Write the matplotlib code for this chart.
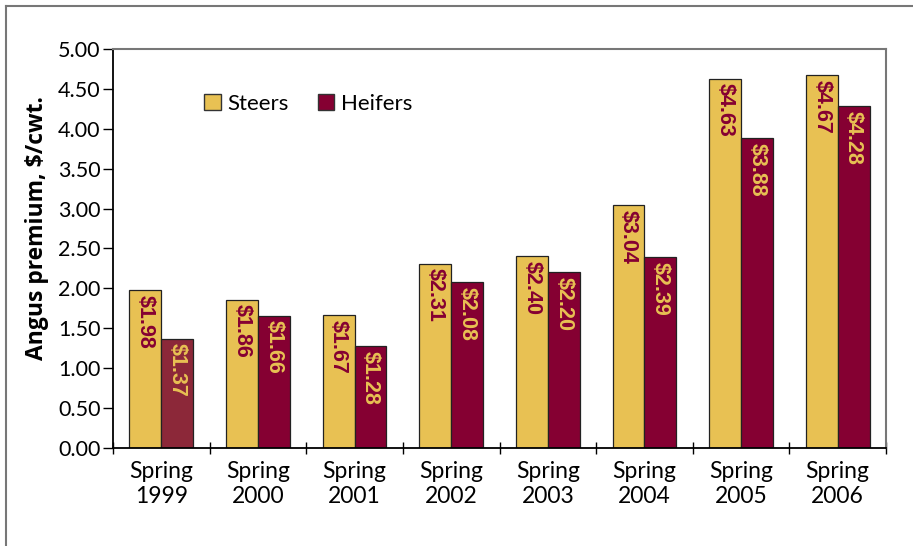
import numpy as np
import matplotlib.pyplot as plt
from matplotlib.lines import Line2D
from matplotlib.patches import Patch

# data
years = ['1999', '2000', '2001', '2002', '2003', '2004', '2005', '2006']
steers = [1.98, 1.86, 1.67, 2.31, 2.40, 3.04, 4.63, 4.67]
heifers = [1.37, 1.66, 1.28, 2.08, 2.20, 2.39, 3.88, 4.28]
yticks = [0.0, 0.5, 1.0, 1.5, 2.0, 2.5, 3.0, 3.5, 4.0, 4.5, 5.0]

gold = '#E8C153'
maroon = '#850032'
maroon_light = '#8C2839'
tick_font = 'Lato'
label_font = 'Liberation Sans'

fig = plt.figure(figsize=(9.13, 5.46), dpi=100)
ax = fig.add_axes([113/913, 1 - 448/546, (886-113)/913, (448-49)/546])

# outer frame (left and top edges)
fig.add_artist(Line2D([6/913, 6/913], [0, 1 - 6/546], transform=fig.transFigure, color='#777777', lw=1.5))
fig.add_artist(Line2D([6/913, 1], [1 - 6/546, 1 - 6/546], transform=fig.transFigure, color='#777777', lw=1.5))

x = np.arange(len(years))
w = 0.33
hcolors = [maroon_light] + [maroon] * (len(years) - 1)
ax.bar(x - w/2, steers, w, color=gold, edgecolor='#222222', linewidth=0.9, zorder=2)
ax.bar(x + w/2, heifers, w, color=hcolors, edgecolor='#222222', linewidth=0.9, zorder=2)

# value labels, rotated, inside top of bars
for i in range(len(years)):
    ax.text(x[i] - w/2, steers[i] - 0.06, f'${steers[i]:.2f}', rotation=-90, ha='center', va='top',
            color=maroon, fontsize=15.5, fontweight='bold', family=label_font, zorder=3)
    ax.text(x[i] + w/2, heifers[i] - 0.06, f'${heifers[i]:.2f}', rotation=-90, ha='center', va='top',
            color=gold, fontsize=15.5, fontweight='bold', family=label_font, zorder=3)

ax.set_xlim(-0.5, len(years) - 0.5)
ax.set_ylim(0, 5)
ax.set_yticks(yticks)
ax.set_yticklabels([f'{v:.2f}' for v in yticks], family=tick_font, fontsize=15.5)
ax.set_xticks(x)
ax.set_xticklabels([f'Spring\n{y}' for y in years], family=tick_font, fontsize=16.5, linespacing=1.25)
ax.set_xticks(np.arange(-0.5, len(years)), minor=True)
ax.tick_params(axis='x', which='major', length=0, pad=9)
ax.tick_params(axis='x', which='minor', length=8, direction='inout', width=1)
ax.tick_params(axis='y', length=7, direction='out', width=1, pad=2)

for s in ['left', 'bottom']:
    ax.spines[s].set_color('black')
    ax.spines[s].set_linewidth(1.3)
for s in ['top', 'right']:
    ax.spines[s].set_color('#777777')
    ax.spines[s].set_linewidth(1.5)

fig.text(37/913, 1 - 228/546, 'Angus premium, $/cwt.', rotation=90, ha='center', va='center',
         fontsize=16.5, fontweight='bold', family='Open Sans')

handles = [Patch(facecolor=gold, edgecolor='#333333', label='Steers'),
           Patch(facecolor=maroon, edgecolor='#333333', label='Heifers')]
ax.legend(handles=handles, loc='center left', bbox_to_anchor=(0.092, 0.862), ncol=2, frameon=False,
          prop={'family': tick_font, 'size': 16}, handlelength=0.75, handleheight=0.75,
          handletextpad=0.3, columnspacing=1.3)

plt.savefig('out.png', dpi=100)
